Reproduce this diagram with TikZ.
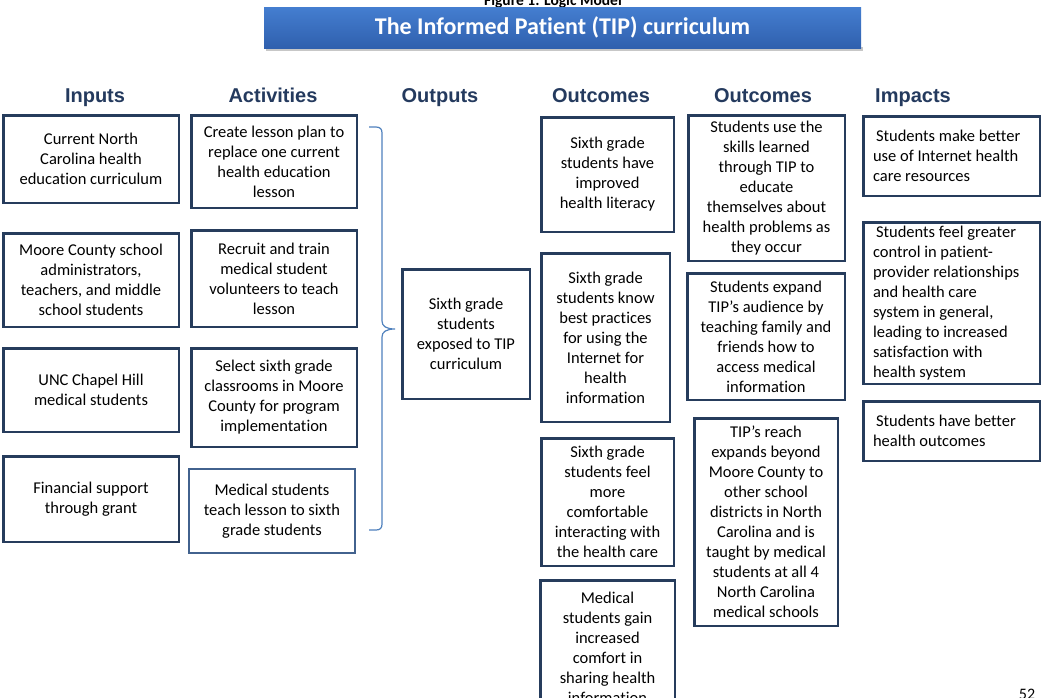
\documentclass[tikz,border=0pt]{standalone}
\usepackage{fontspec}
\setmainfont{Carlito}[Ligatures=NoCommon]
\newfontfamily\headfont{Liberation Sans}
\usetikzlibrary{positioning}
\definecolor{navy}{RGB}{38,60,92}
\definecolor{midnavy}{RGB}{66,98,142}
\definecolor{headblue}{RGB}{36,58,94}
\definecolor{bracecol}{RGB}{79,129,189}
\definecolor{bartop}{RGB}{68,126,208}
\definecolor{barbottom}{RGB}{48,96,174}

\begin{document}
\begin{tikzpicture}[x=1pt,y=-1pt,box/.style={draw=navy,line width=2.5pt,align=center,inner sep=3pt,font=\fontsize{16.5}{20}\selectfont},lbox/.style={box,align=flush left,text width=157pt},head/.style={anchor=base,text=headblue,font=\headfont\bfseries\fontsize{20}{24}\selectfont}]
\useasboundingbox (0,0) rectangle (1047,697);
\clip (0,0) rectangle (1047,697);
\fill[white] (0,0) rectangle (1047,697);
% title bar
\node[anchor=base,font=\bfseries\fontsize{15.5}{18}\selectfont] (fig) at (553,5) {Figure 1: Logic Model};
\fill[black!22] (266,47) rectangle (863,51);
\node[minimum width=597pt,minimum height=41pt,inner sep=0pt,top color=bartop,bottom color=barbottom,text=white,font=\bfseries\fontsize{24}{28}\selectfont] (title) at (562.5,27.5) {The Informed Patient (TIP) curriculum};
% column heads
\node[head] (hin) at (95,102) {Inputs};
\node[head] (hact) at (273,102) {Activities};
\node[head] (hout) at (440,102) {Outputs};
\node[head] (hoca) at (601,102) {Outcomes};
\node[head] (hocb) at (763,102) {Outcomes};
\node[head] (himp) at (913,102) {Impacts};
% inputs
\node[box,minimum width=175.5pt,minimum height=87.5pt,anchor=north] (curric) at (91,114) {Current North\\Carolina health\\education curriculum};
\node[box,minimum width=175.5pt,minimum height=93.5pt,below=28pt of curric] (moore) {Moore County school\\administrators,\\teachers, and middle\\school students};
\node[box,minimum width=175.5pt,minimum height=83.5pt,below=19pt of moore] (unc) {UNC Chapel Hill\\medical students};
\node[box,minimum width=175.5pt,minimum height=85.5pt,below=22pt of unc] (grant) {Financial support\\through grant};
% activities
\node[box,minimum width=165.5pt,minimum height=92.5pt] (plan) at (274,161.5) {Create lesson plan to\\replace one current\\health education\\lesson};
\node[box,minimum width=165.5pt,minimum height=96.5pt] (recruit) at (274,278.5) {Recruit and train\\medical student\\volunteers to teach\\lesson};
\node[box,minimum width=165.5pt,minimum height=98.5pt] (select) at (274,397.5) {Select sixth grade\\classrooms in Moore\\County for program\\implementation};
\node[box,draw=midnavy,line width=2pt,minimum width=166pt,minimum height=84pt] (teach) at (272,511) {Medical students\\teach lesson to sixth\\grade students};
% brace
\draw[bracecol,line width=1.2pt] (369,127) -- (376,127) .. controls (380,127) and (382,129) .. (382,133) -- (382,321) .. controls (382,326) and (386,329) .. (395,329) .. controls (386,329) and (382,332) .. (382,337) -- (382,524) .. controls (382,528) and (380,530) .. (376,530) -- (369,530);
% outputs
\node[box,minimum width=127.5pt,minimum height=129.5pt] (exposed) at (466,334) {Sixth grade\\students\\exposed to TIP\\curriculum};
% outcomes
\node[box,minimum width=132.5pt,minimum height=114.5pt] (literacy) at (607.5,174.5) {Sixth grade\\students have\\improved\\health literacy};
\node[box,minimum width=128.5pt,minimum height=168.5pt] (practice) at (605.5,337.5) {Sixth grade\\students know\\best practices\\for using the\\Internet for\\health\\information};
\node[box,minimum width=132.5pt,minimum height=127.5pt] (comfort) at (607.5,502) {Sixth grade\\students feel\\more\\comfortable\\interacting with\\the health care};
\node[box,minimum width=134.5pt,minimum height=135.5pt] (sharing) at (607.5,648) {Medical\\students gain\\increased\\comfort in\\sharing health\\information};
\node[box,minimum width=156.5pt,minimum height=145.5pt] (selfedu) at (766.5,188) {Students use the\\skills learned\\through TIP to\\educate\\themselves about\\health problems as\\they occur};
\node[box,minimum width=157.5pt,minimum height=126.5pt] (expand) at (766,336.5) {Students expand\\TIP’s audience by\\teaching family and\\friends how to\\access medical\\information};
\node[box,minimum width=143.5pt,minimum height=207.5pt] (reach) at (766,522) {TIP’s reach\\expands beyond\\Moore County to\\other school\\districts in North\\Carolina and is\\taught by medical\\students at all 4\\North Carolina\\medical schools};
% impacts
\node[lbox,minimum width=176.5pt,minimum height=79.5pt] (resource) at (951.5,156) {\hspace*{3pt}Students make better\\use of Internet health\\care resources};
\node[lbox,minimum width=176.5pt,minimum height=161.5pt] (control) at (951.5,303) {\hspace*{3pt}Students feel greater\\control in patient-\\provider relationships\\and health care\\system in general,\\leading to increased\\satisfaction with\\health system};
\node[lbox,minimum width=176.5pt,minimum height=59.5pt] (health) at (951.5,431) {\hspace*{3pt}Students have better\\health outcomes};
\node[anchor=base,font=\fontsize{16}{19}\selectfont] (page) at (1027,699) {52};
\end{tikzpicture}
\end{document}
